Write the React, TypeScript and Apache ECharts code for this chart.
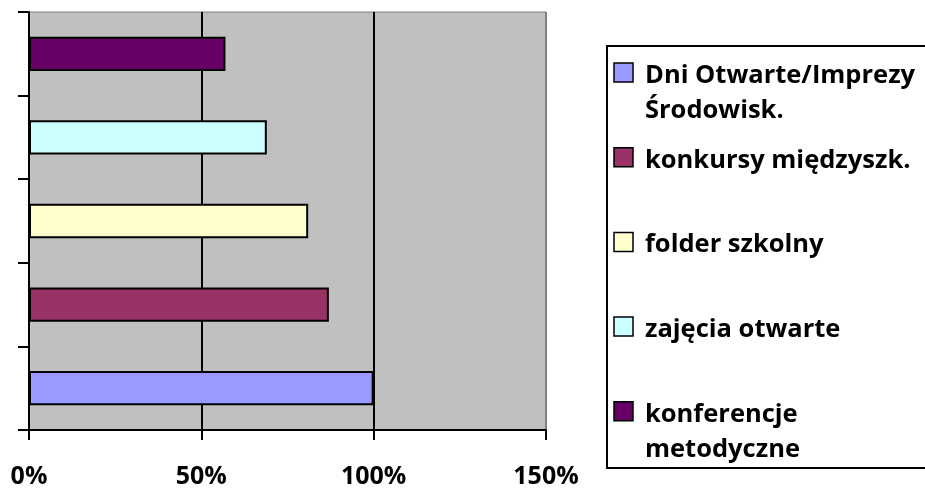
import React, { useEffect, useRef } from "react";
import * as echarts from "echarts";

const categories = [
  "Dni Otwarte/Imprezy\nŚrodowisk.",
  "konkursy międzyszk.",
  "folder szkolny",
  "zajęcia otwarte",
  "konferencje\nmetodyczne",
];
const values = [100, 87, 81, 69, 57];
const colors = ["#9999FF", "#993366", "#FFFFCC", "#CCFFFF", "#660066"];
const xTicks = [0, 50, 100, 150];

export default function App() {
  const ref = useRef<HTMLDivElement>(null);
  useEffect(() => {
    if (!ref.current) return;
    const chart = echarts.init(ref.current, undefined, { renderer: "svg" });
    const font = "'Open Sans', 'Noto Sans', sans-serif";
    const series = categories.map((name, i) => ({
      name,
      type: "bar",
      stack: "all",
      barCategoryGap: "59%",
      data: categories.map((_, j) => (j === i ? values[i] : null)),
      itemStyle: { color: colors[i], borderColor: "#000", borderWidth: 2 },
    }));
    const legendX = 614;
    const legendTop = 73;
    const legendStep = 84.7;
    const graphic: any[] = [
      {
        type: "rect",
        shape: { x: 607, y: 46, width: 500, height: 422 },
        style: { fill: "#fff", stroke: "#000", lineWidth: 2 },
        z: 0,
      },
    ];
    categories.forEach((name, i) => {
      const cy = legendTop + i * legendStep;
      graphic.push({
        type: "rect",
        shape: { x: legendX, y: cy - 10, width: 19, height: 19 },
        style: { fill: colors[i], stroke: "#000", lineWidth: 1.5 },
        z: 1,
      });
      graphic.push({
        type: "text",
        x: 645,
        y: cy - 17.5,
        style: {
          text: name,
          fill: "#000",
          font: `bold 25.5px ${font}`,
          lineHeight: 35,
          verticalAlign: "top",
        },
        z: 1,
      });
    });
    chart.setOption({
      animation: false,
      grid: {
        left: 29,
        right: 379,
        top: 12,
        bottom: 58,
        show: true,
        backgroundColor: "#C0C0C0",
        borderColor: "#808080",
        borderWidth: 1,
      },
      xAxis: {
        type: "value",
        min: xTicks[0],
        max: xTicks[xTicks.length - 1],
        interval: 50,
        axisLine: { show: true, lineStyle: { color: "#000", width: 2 } },
        axisTick: { show: true, length: 10, lineStyle: { color: "#000", width: 2 } },
        axisLabel: {
          formatter: (v: number) => `${v}%`,
          color: "#000",
          fontFamily: font,
          fontWeight: "bold",
          fontSize: 25,
          lineHeight: 20,
          margin: 34,
        },
        splitLine: {
          show: true,
          showMinLine: true,
          showMaxLine: true,
          lineStyle: { color: ["#000", "#000", "#000", "#808080"], width: 2 },
        },
      },
      yAxis: {
        type: "category",
        data: categories,
        axisLine: { show: true, lineStyle: { color: "#000", width: 2 } },
        axisTick: { show: true, length: 11, lineStyle: { color: "#000", width: 2 } },
        axisLabel: { show: false },
        splitLine: { show: false },
      },
      series,
      graphic,
    });
    return () => chart.dispose();
  }, []);
  return (
    <div
      ref={ref}
      style={{ position: "fixed", left: 0, top: 0, width: 925, height: 488 }}
    />
  );
}
